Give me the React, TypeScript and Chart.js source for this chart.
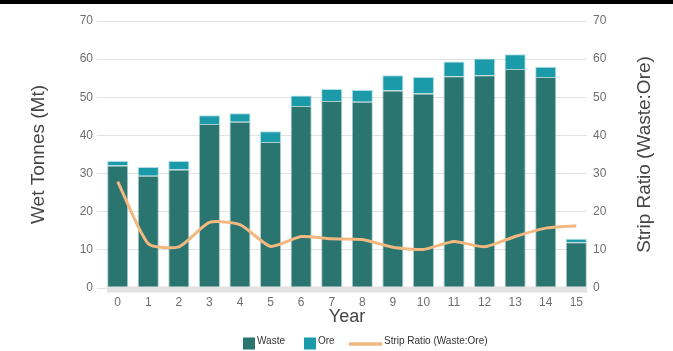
import { useEffect, useRef } from "react";
import { Chart, registerables } from "chart.js";

Chart.register(...registerables);

// Mine schedule by year
const years = [0, 1, 2, 3, 4, 5, 6, 7, 8, 9, 10, 11, 12, 13, 14, 15];
const waste = [32.1, 29.4, 31.1, 43.0, 43.6, 38.3, 47.7, 49.0, 48.8, 51.8, 51.0, 55.5, 55.8, 57.4, 55.3, 12.0];
const ore = [1.2, 2.3, 2.2, 2.3, 2.2, 2.8, 2.8, 3.2, 3.1, 4.0, 4.3, 3.9, 4.4, 3.9, 2.7, 0.9];
const stripRatio = [27.9, 11.6, 10.8, 17.2, 16.6, 10.9, 13.5, 12.9, 12.7, 10.7, 10.1, 12.2, 10.8, 13.5, 15.7, 16.3];
const axisMin = 0;
const axisMax = 70;
const axisStep = 10;

const WASTE = "#2a7570";
const ORE = "#1b9aaa";
const RATIO = "#f2b880";
const FONT = "'Liberation Sans', Arial, Helvetica, sans-serif";

const W = 673;
const H = 351;

const decorations = {
  id: "decorations",
  beforeDraw(chart: any) {
    const { ctx } = chart;
    ctx.save();
    ctx.fillStyle = "#000";
    ctx.fillRect(0, 0, W, 4);
    ctx.restore();
  },
  afterDatasetsDraw(chart: any) {
    const { ctx, chartArea } = chart;
    ctx.save();
    ctx.fillStyle = "#e2e2e2";
    ctx.fillRect(chartArea.left, chartArea.bottom - 1.5, chartArea.right - chartArea.left, 6);
    ctx.restore();
  },
  afterDraw(chart: any) {
    const { ctx, chartArea } = chart;
    ctx.save();
    // right axis title, reading bottom to top
    ctx.translate(645, (chartArea.top + chartArea.bottom) / 2);
    ctx.rotate(-Math.PI / 2);
    ctx.fillStyle = "#444";
    ctx.font = `19px ${FONT}`;
    ctx.textAlign = "center";
    ctx.textBaseline = "middle";
    ctx.fillText("Strip Ratio (Waste:Ore)", 0, 0);
    ctx.restore();

    // legend
    ctx.save();
    ctx.font = `10px ${FONT}`;
    ctx.textBaseline = "middle";
    let x = 243;
    const boxTop = 337.5;
    const textY = 341;
    ctx.fillStyle = WASTE;
    ctx.fillRect(x, boxTop, 12, 12);
    ctx.fillStyle = "#333";
    ctx.fillText("Waste", x + 14, textY);
    x = 304;
    ctx.fillStyle = ORE;
    ctx.fillRect(x, boxTop, 12, 12);
    ctx.fillStyle = "#333";
    ctx.fillText("Ore", x + 14, textY);
    x = 349;
    ctx.strokeStyle = RATIO;
    ctx.lineWidth = 3.5;
    ctx.beginPath();
    ctx.moveTo(x, 344);
    ctx.lineTo(x + 33, 344);
    ctx.stroke();
    ctx.fillText("Strip Ratio (Waste:Ore)", x + 35, textY);
    ctx.restore();
  },
};

export default function App() {
  const ref = useRef<HTMLCanvasElement | null>(null);

  useEffect(() => {
    document.body.style.margin = "0";
    const canvas = ref.current;
    if (!canvas) return;
    const chart = new Chart(canvas, {
      type: "bar",
      data: {
        labels: years,
        datasets: [
          {
            type: "line",
            label: "Strip Ratio (Waste:Ore)",
            data: stripRatio,
            yAxisID: "y2",
            borderColor: RATIO,
            borderWidth: 3,
            pointRadius: 0,
            tension: 0.2,
            fill: false,
            order: 0,
          } as any,
          {
            label: "Waste",
            data: waste,
            backgroundColor: WASTE,
            borderColor: "rgba(120,170,166,0.6)",
            borderWidth: 1,
            yAxisID: "y",
            order: 1,
          },
          {
            label: "Ore",
            data: ore,
            backgroundColor: ORE,
            borderColor: "rgba(120,200,210,0.6)",
            borderWidth: 1,
            yAxisID: "y",
            order: 1,
          },
        ],
      },
      options: {
        responsive: false,
        animation: false,
        devicePixelRatio: 1,
        layout: { padding: { top: 21, left: 0, right: 0, bottom: 0 } },
        datasets: {
          bar: { barPercentage: 0.69, categoryPercentage: 1 },
        },
        plugins: {
          legend: { display: false },
          tooltip: { enabled: false },
        },
        scales: {
          x: {
            type: "linear",
            offset: false,
            stacked: true,
            min: -0.35,
            max: 15.35,
            afterBuildTicks: (scale: any) => {
              scale.ticks = years.map((v) => ({ value: v }));
            },
            afterFit: (scale: any) => {
              scale.height = H - 288;
            },
            grid: { display: false, drawTicks: false },
            border: { display: false },
            ticks: {
              color: "#6f6f6f",
              font: { family: FONT, size: 12 },
              padding: 7,
              maxRotation: 0,
              autoSkip: false,
            },
            title: {
              display: true,
              text: "Year",
              color: "#444",
              font: { family: FONT, size: 18 },
              padding: { top: 0, bottom: 23 },
            },
          },
          y: {
            type: "linear",
            position: "left",
            stacked: true,
            min: axisMin,
            max: axisMax,
            afterFit: (scale: any) => {
              scale.width = 107;
            },
            grid: { color: "#e3e3e3", lineWidth: 1, drawTicks: true, tickLength: 10 },
            border: { display: false },
            ticks: {
              stepSize: axisStep,
              color: "#6f6f6f",
              font: { family: FONT, size: 12 },
              padding: 4,
            },
            title: {
              display: true,
              text: "Wet Tonnes (Mt)",
              color: "#444",
              font: { family: FONT, size: 19 },
              padding: { top: 27, bottom: 0 },
            },
          },
          y2: {
            type: "linear",
            position: "right",
            min: axisMin,
            max: axisMax,
            afterFit: (scale: any) => {
              scale.width = W - 587;
            },
            grid: { display: false, drawTicks: false },
            border: { display: false },
            ticks: {
              stepSize: axisStep,
              color: "#6f6f6f",
              font: { family: FONT, size: 12 },
              padding: 6,
            },
          },
        },
      },
      plugins: [decorations],
    });
    return () => chart.destroy();
  }, []);

  return (
    <div style={{ width: W, height: H }}>
      <canvas ref={ref} width={W} height={H} style={{ display: "block", width: W, height: H }} />
    </div>
  );
}
